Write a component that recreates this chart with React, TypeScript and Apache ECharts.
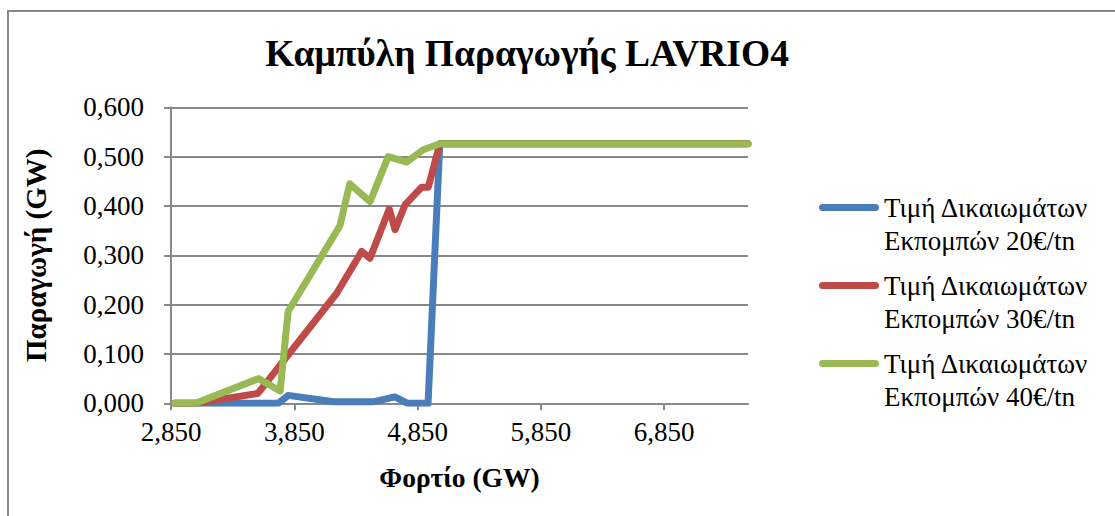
import React, { useEffect, useRef } from "react";
import * as echarts from "echarts";

const titleText = "Καμπύλη Παραγωγής LAVRIO4";
const xAxisName = "Φορτίο (GW)";
const yAxisName = "Παραγωγή (GW)";
const xTickValues = [2850, 3850, 4850, 5850, 6850];
const xMin = 2850;
const xMax = 7530;
const yMin = 0;
const yMax = 0.6;
const yStep = 0.1;

const seriesNames = [
  "Τιμή Δικαιωμάτων\nΕκπομπών 20€/tn",
  "Τιμή Δικαιωμάτων\nΕκπομπών 30€/tn",
  "Τιμή Δικαιωμάτων\nΕκπομπών 40€/tn",
];
const seriesColors = ["#4A7EBB", "#BE4B48", "#98B954"];

const price20: [number, number][] = [
  [2880, 0], [3720, 0], [3800, 0.016], [4170, 0.003], [4490, 0.003],
  [4665, 0.013], [4770, 0], [4935, 0], [5030, 0.526], [7530, 0.526],
];
const price30: [number, number][] = [
  [2880, 0], [3050, 0], [3555, 0.02], [4194, 0.223], [4397, 0.308],
  [4464, 0.294], [4620, 0.394], [4667, 0.352], [4748, 0.402], [4883, 0.438],
  [4937, 0.438], [5030, 0.526], [7530, 0.526],
];
const price40: [number, number][] = [
  [2880, 0], [3050, 0], [3560, 0.05], [3735, 0.025], [3800, 0.186],
  [4220, 0.36], [4300, 0.445], [4465, 0.409], [4612, 0.5], [4762, 0.489],
  [4896, 0.514], [5030, 0.526], [7530, 0.526],
];
const seriesData = [price20, price30, price40];

const FONT = "Liberation Serif";
const GRAY = "#898989";

export default function App() {
  const ref = useRef<HTMLDivElement>(null);
  useEffect(() => {
    if (!ref.current) return;
    const chart = echarts.init(ref.current, undefined, { renderer: "svg" });
    const iconPath =
      "path://M0,0 M3.5,13 L56.5,13 A3.5,3.5 0 0 1 56.5,20 L3.5,20 A3.5,3.5 0 0 1 3.5,13 Z M60,66";
    chart.setOption({
      animation: false,
      backgroundColor: "#ffffff",
      textStyle: { fontFamily: FONT },
      title: {
        text: titleText,
        left: 522,
        top: 29,
        textAlign: "center",
        textStyle: { fontFamily: FONT, fontSize: 37.5, fontWeight: "bold", color: "#000" },
      },
      graphic: [
        {
          type: "rect",
          shape: { x: 8, y: 11, width: 1300, height: 700 },
          style: { fill: "none", stroke: GRAY, lineWidth: 2 },
          silent: true,
        },
      ],
      legend: {
        orient: "vertical",
        left: 814,
        top: 186,
        itemWidth: 60,
        itemHeight: 66,
        itemGap: 12,
        icon: iconPath,
        itemStyle: { borderWidth: 0 },
        textStyle: { fontFamily: FONT, fontSize: 27, lineHeight: 33, color: "#000" },
        data: seriesNames,
      },
      grid: { left: 171, right: 367, top: 107.3, bottom: 112.7, containLabel: false },
      xAxis: {
        type: "value",
        min: xMin,
        max: xMax,
        name: xAxisName,
        nameLocation: "middle",
        nameGap: 60,
        nameTextStyle: { fontFamily: FONT, fontSize: 27.5, fontWeight: "bold", color: "#000" },
        axisLine: { show: true, lineStyle: { color: GRAY, width: 2 } },
        axisTick: { show: true, length: 7, lineStyle: { color: GRAY, width: 2 }, customValues: xTickValues },
        axisLabel: {
          customValues: xTickValues,
          margin: 15,
          fontFamily: FONT,
          fontSize: 27,
          color: "#000",
          formatter: (v: number) => v.toLocaleString("en-US"),
        },
        splitLine: { show: false },
      },
      yAxis: {
        type: "value",
        min: yMin,
        max: yMax,
        interval: yStep,
        name: yAxisName,
        nameLocation: "middle",
        nameGap: 121,
        nameTextStyle: { fontFamily: FONT, fontSize: 29, fontWeight: "bold", color: "#000" },
        axisLine: { show: true, lineStyle: { color: GRAY, width: 2 } },
        axisTick: { show: true, length: 7, lineStyle: { color: GRAY, width: 2 } },
        axisLabel: {
          margin: 27,
          fontFamily: FONT,
          fontSize: 27,
          color: "#000",
          formatter: (v: number) => v.toFixed(3).replace(".", ","),
        },
        splitLine: { show: true, lineStyle: { color: GRAY, width: 2 } },
      },
      series: seriesData.map((d, i) => ({
        name: seriesNames[i],
        type: "line",
        data: d,
        showSymbol: false,
        symbol: "none",
        color: seriesColors[i],
        lineStyle: { color: seriesColors[i], width: 7, cap: "round", join: "round" },
        clip: true,
        z: 2 + i,
      })),
    });
    return () => chart.dispose();
  }, []);
  return (
    <div
      ref={ref}
      style={{ position: "absolute", left: 0, top: 0, width: 1115, height: 516 }}
    />
  );
}
